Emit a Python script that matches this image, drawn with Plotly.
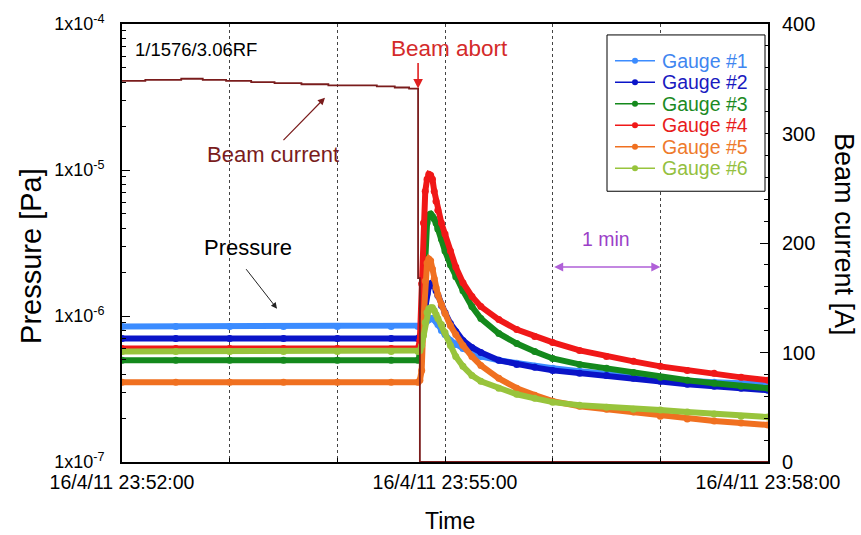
import pandas as pd
import plotly.graph_objects as go

# ---- data -------------------------------------------------------------
start = pd.Timestamp("2011-04-16 23:52:00")

# seconds after 23:52:00 for the pressure samples
elapsed_s = [0, 30, 60, 90, 120, 150, 165,
             166, 167, 168, 169, 170, 171, 172, 173, 174, 175, 176, 178, 180,
             183, 186, 190, 195, 200, 210, 220, 230, 240, 255, 270, 285, 300,
             315, 330, 345, 360]

gauge1 = [8.47e-7] * 7 + [8.47e-7, 8.60e-7, 8.74e-7, 9.02e-7, 9.30e-7, 9.45e-7, 9.60e-7, 9.60e-7,
                          9.45e-7, 9.16e-7, 8.74e-7, 7.96e-7, 7.47e-7, 6.80e-7, 6.38e-7, 6.00e-7,
                          5.63e-7, 5.28e-7, 4.97e-7, 4.74e-7, 4.52e-7, 4.38e-7, 4.18e-7, 4.05e-7,
                          3.86e-7, 3.69e-7, 3.57e-7, 3.52e-7, 3.46e-7, 3.41e-7]
gauge2 = [7.01e-7] * 7 + [7.24e-7, 7.96e-7, 9.60e-7, 1.18e-6, 1.42e-6, 1.59e-6, 1.66e-6, 1.69e-6,
                          1.61e-6, 1.49e-6, 1.38e-6, 1.18e-6, 1.055e-6, 8.87e-7, 7.83e-7, 6.80e-7,
                          6.09e-7, 5.63e-7, 4.97e-7, 4.66e-7, 4.45e-7, 4.24e-7, 4.05e-7, 3.92e-7,
                          3.74e-7, 3.57e-7, 3.41e-7, 3.30e-7, 3.20e-7, 3.10e-7]
gauge3 = [4.97e-7] * 7 + [5.37e-7, 7.96e-7, 1.18e-6, 2.39e-6, 4.33e-6, 4.91e-6, 4.99e-6, 4.83e-6,
                          4.61e-6, 4.33e-6, 3.94e-6, 3.37e-6, 2.79e-6, 2.24e-6, 1.86e-6, 1.49e-6,
                          1.16e-6, 9.60e-7, 7.59e-7, 6.48e-7, 5.72e-7, 5.12e-7, 4.66e-7, 4.38e-7,
                          4.11e-7, 3.80e-7, 3.63e-7, 3.46e-7, 3.30e-7, 3.20e-7]
gauge4 = [6.00e-7] * 7 + [6.80e-7, 1.66e-6, 4.33e-6, 7.16e-6, 8.65e-6, 9.35e-6, 9.20e-6, 8.65e-6,
                          7.16e-6, 6.12e-6, 5.31e-6, 4.33e-6, 3.64e-6, 2.79e-6, 2.17e-6, 1.69e-6,
                          1.36e-6, 1.16e-6, 9.45e-7, 8.08e-7, 7.24e-7, 6.59e-7, 5.81e-7, 5.28e-7,
                          4.89e-7, 4.52e-7, 4.24e-7, 4.05e-7, 3.80e-7, 3.63e-7]
gauge5 = [3.52e-7] * 7 + [3.63e-7, 4.24e-7, 9.30e-7, 1.74e-6, 2.31e-6, 2.46e-6, 2.39e-6, 2.10e-6,
                          1.80e-6, 1.56e-6, 1.40e-6, 1.20e-6, 1.04e-6, 8.60e-7, 7.47e-7, 6.28e-7,
                          5.28e-7, 4.59e-7, 3.74e-7, 3.20e-7, 2.87e-7, 2.61e-7, 2.41e-7, 2.30e-7,
                          2.20e-7, 2.06e-7, 1.97e-7, 1.91e-7, 1.85e-7, 1.79e-7]
gauge6 = [5.72e-7] * 7 + [5.81e-7, 6.28e-7, 7.35e-7, 9.02e-7, 1.055e-6, 1.12e-6, 1.14e-6, 1.14e-6,
                          1.09e-6, 1.022e-6, 9.60e-7, 8.74e-7, 7.71e-7, 6.28e-7, 5.28e-7, 4.52e-7,
                          3.92e-7, 3.57e-7, 3.20e-7, 2.91e-7, 2.73e-7, 2.57e-7, 2.45e-7, 2.37e-7,
                          2.30e-7, 2.27e-7, 2.20e-7, 2.13e-7, 2.06e-7, 2.03e-7]

gauge_names = ["Gauge #1", "Gauge #2", "Gauge #3", "Gauge #4", "Gauge #5", "Gauge #6"]
gauge_values = [gauge1, gauge2, gauge3, gauge4, gauge5, gauge6]

# beam current (A), stepwise record
beam_t_s = [0, 13, 33, 45, 58, 72, 85, 100, 115, 130, 142, 152, 160, 165, 166, 360]
beam_current_A = [348, 349, 350, 349, 348, 347, 346, 345, 344, 344, 343, 342, 341, 168, 0, 0]

abort_s = 165

x_ticks = ["2011-04-16 23:52:00", "2011-04-16 23:55:00", "2011-04-16 23:58:00"]
x_ticktext = ["16/4/11 23:52:00", "16/4/11 23:55:00", "16/4/11 23:58:00"]
p_ticks = [1e-7, 1e-6, 1e-5, 1e-4]
p_ticktext = ["1x10<sup>-7</sup>", "1x10<sup>-6</sup>", "1x10<sup>-5</sup>", "1x10<sup>-4</sup>"]
i_ticks = [0, 100, 200, 300, 400]

# ---- styling ----------------------------------------------------------
gauge_colors = ["#3c8cff", "#0a14c8", "#14891c", "#f01818", "#f07020", "#98c43c"]
text_colors = ["#3f86f0", "#1a1ac0", "#1c8a24", "#e81c1c", "#ee7a2c", "#94c040"]
beam_color = "#7a1c1c"
FONT = "Liberation Sans, Arial, sans-serif"

W, H = 861, 535
ML, MR, MT, MB = 122, 93, 22, 73
PW, PH = W - ML - MR, H - MT - MB


def px(xp):
    """pixel column -> paper x"""
    return (xp - ML) / PW


def py(yp):
    """pixel row -> paper y"""
    return 1 - (yp - MT) / PH


p_times = start + pd.to_timedelta(elapsed_s, unit="s")
b_times = start + pd.to_timedelta(beam_t_s, unit="s")

fig = go.Figure()

fig.add_trace(go.Scatter(
    x=b_times, y=beam_current_A, yaxis="y2", mode="lines",
    line=dict(color=beam_color, width=1.8, shape="hv"),
    showlegend=False, name="Beam current"))

for name, vals, col in zip(gauge_names, gauge_values, gauge_colors):
    fig.add_trace(go.Scatter(
        x=p_times, y=vals, mode="lines+markers",
        line=dict(color=col, width=6),
        marker=dict(color=col, size=7),
        showlegend=False, name=name))

minor_log = [m * 10 ** e for e in (-7, -6, -5) for m in range(2, 10)]

fig.update_layout(
    width=W, height=H,
    margin=dict(l=ML, r=MR, t=MT, b=MB),
    paper_bgcolor="white", plot_bgcolor="white",
    font=dict(family=FONT, size=18, color="black"),
    showlegend=False,
    xaxis=dict(
        type="date",
        range=[start, start + pd.Timedelta(minutes=6)],
        tickmode="array", tickvals=x_ticks, ticktext=x_ticktext,
        ticks="inside", ticklen=5, tickcolor="black", ticklabelstandoff=2,
        showgrid=True, gridcolor="#444444", griddash="dot", gridwidth=1,
        minor=dict(tick0="2011-04-16 23:52:00", dtick=60000, ticks="inside", ticklen=4,
                   showgrid=True, gridcolor="#444444", griddash="dot", gridwidth=1),
        showline=True, linecolor="black", linewidth=2, mirror=True,
        zeroline=False, tickfont=dict(size=19.5)),
    yaxis=dict(
        type="log", range=[-7, -4],
        tickmode="array", tickvals=p_ticks, ticktext=p_ticktext,
        ticks="inside", ticklen=8, tickcolor="black", ticklabelstandoff=12,
        minor=dict(tickmode="array", tickvals=minor_log, ticks="inside", ticklen=4,
                   showgrid=False),
        showgrid=False, showline=True, linecolor="black", linewidth=2,
        zeroline=False, tickfont=dict(size=18)),
    yaxis2=dict(
        overlaying="y", side="right", range=[0, 400],
        tickmode="array", tickvals=i_ticks,
        ticks="inside", ticklen=8, tickcolor="black", ticklabelstandoff=8,
        minor=dict(dtick=20, tick0=0, ticks="inside", ticklen=4, showgrid=False),
        showgrid=False, showline=True, linecolor="black", linewidth=2,
        zeroline=False, tickfont=dict(size=20)),
)

# ---- legend: framed box with a line+dot key per gauge -------------------
shapes = [dict(type="rect", xref="paper", yref="paper",
               x0=px(607), x1=px(765), y0=py(190), y1=py(33),
               line=dict(color="black", width=1), fillcolor="white", layer="above")]
anns = []
row0, row_gap = 59, 21.6
for i, (name, col, tcol) in enumerate(zip(gauge_names, gauge_colors, text_colors)):
    yrow = row0 + i * row_gap
    shapes.append(dict(type="line", xref="paper", yref="paper",
                       x0=px(615), x1=px(655), y0=py(yrow), y1=py(yrow),
                       line=dict(color=col, width=1.5), layer="above"))
    shapes.append(dict(type="circle", xref="paper", yref="paper",
                       x0=px(632), x1=px(638), y0=py(yrow + 3), y1=py(yrow - 3),
                       line=dict(color=col, width=0), fillcolor=col, layer="above"))
    anns.append(dict(text=name, xref="paper", yref="paper", x=px(660), y=py(yrow),
                     xanchor="left", yanchor="middle", showarrow=False,
                     font=dict(size=19.5, color=tcol)))

abort_time = start + pd.Timedelta(seconds=abort_s)
anns += [
    dict(text="1/1576/3.06RF", xref="paper", yref="paper", x=px(133), y=py(48),
         xanchor="left", yanchor="middle", showarrow=False,
         font=dict(size=18.5, color="black")),
    dict(text="Beam abort", xref="paper", yref="paper", x=px(449), y=py(47),
         xanchor="center", yanchor="middle", showarrow=False,
         font=dict(size=22.5, color="#d42a2a")),
    dict(text="", x=abort_time, y=beam_current_A[12], xref="x", yref="y2",
         ax=0, ay=-27, showarrow=True, arrowhead=2, arrowsize=1.2, arrowwidth=1.6,
         arrowcolor="#e02020", standoff=0),
    dict(text="Beam current", xref="paper", yref="paper", x=px(273), y=py(153),
         xanchor="center", yanchor="middle", showarrow=False,
         font=dict(size=22, color=beam_color)),
    dict(text="", xref="paper", yref="paper", x=px(325), y=py(96), ax=-43, ay=44,
         showarrow=True, arrowhead=2, arrowsize=1.2, arrowwidth=1.2,
         arrowcolor=beam_color, standoff=0),
    dict(text="Pressure", xref="paper", yref="paper", x=px(248), y=py(247),
         xanchor="center", yanchor="middle", showarrow=False,
         font=dict(size=22, color="black")),
    dict(text="", xref="paper", yref="paper", x=px(277), y=py(308), ax=-32, ay=-41,
         showarrow=True, arrowhead=2, arrowsize=1.2, arrowwidth=1.0,
         arrowcolor="#222222", standoff=0),
    dict(text="1 min", xref="paper", yref="paper", x=px(606), y=py(238),
         xanchor="center", yanchor="middle", showarrow=False,
         font=dict(size=19.5, color="#9b3fc8")),
    dict(text="", x="2011-04-16 23:57:00", y=py(266), xref="x", yref="paper",
         ax="2011-04-16 23:56:00", ay=0, axref="x", ayref="pixel",
         showarrow=True, arrowhead=2, arrowside="end+start", arrowsize=1.2,
         arrowwidth=1.5, arrowcolor="#b060d8", standoff=0, startstandoff=0),
    dict(text="Pressure [Pa]", xref="paper", yref="paper", x=px(31), y=py(255),
         textangle=-90, showarrow=False, xanchor="center", yanchor="middle",
         font=dict(size=29, color="black")),
    dict(text="Beam current [A]", xref="paper", yref="paper", x=px(844), y=py(233),
         textangle=90, showarrow=False, xanchor="center", yanchor="middle",
         font=dict(size=27, color="black")),
    dict(text="Time", xref="paper", yref="paper", x=px(450), y=py(521),
         showarrow=False, xanchor="center", yanchor="middle",
         font=dict(size=23, color="black")),
]
fig.update_layout(annotations=anns, shapes=shapes)

fig.write_html("out.html")
